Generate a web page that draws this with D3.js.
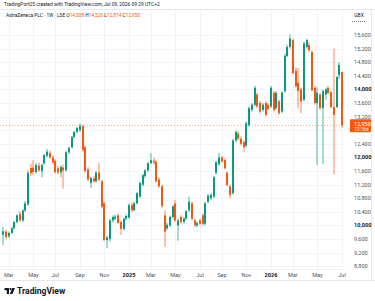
<!DOCTYPE html>
<html>
<head>
<meta charset="utf-8">
<script src="https://d3js.org/d3.v7.min.js"></script>
<style>
  body { margin: 0; background: #ffffff; }
  svg { display: block; font-family: Roboto, "Liberation Sans", sans-serif; }
</style>
</head>
<body>
<script>
// weekly candles, first bar = week of Mon 19 Feb 2024
var firstWeek = "2024-02-19";

var open = [9730,9820,9680,9780,9920,10100,10340,10150,10440,10620,
  11690,11700,11570,11760,11600,11830,12050,12130,12000,11900,
  11680,11560,11700,11620,12150,12300,12600,12750,12800,12920,
  12300,11650,11250,11380,11300,11560,11300,10650,9570,9600,
  10150,10200,10300,10100,9900,10200,10230,10600,10450,10650,
  10850,11200,11450,11620,11830,11900,11870,11350,11150,10300,
  9920,10000,10250,10650,10000,10250,10100,10200,10440,10650,
  10150,10000,10150,10300,10050,10700,10800,10850,11550,11800,
  12000,11920,11550,11150,10950,12500,12700,12550,12450,12350,
  12950,13400,13550,13850,13600,13400,13600,13550,13500,13900,
  13450,13650,13350,13950,14980,15250,15450,14550,14200,14000,
  13700,15250,15300,15100,14050,13600,13850,13450,13850,14050,
  13920,13480,13480,14420,14508];
var high = [9960,9870,9820,9960,10130,10330,10420,10480,10720,11620,
  11820,11920,11830,11850,11820,12100,12250,12200,12060,11950,
  11750,11780,11780,12200,12320,12640,12780,12900,13000,12960,
  12350,11720,11420,11460,11600,11850,11350,10700,9700,10200,
  10300,10320,10350,10150,10230,10330,10650,10680,10700,10990,
  11300,11520,11660,11870,12130,12000,11920,11420,11200,10450,
  10080,10300,10600,10750,10200,10300,10250,10460,10850,10700,
  10200,10120,10200,10350,10700,10920,10950,11450,11900,12130,
  12050,11980,11600,11200,12550,12800,12780,12620,12500,13050,
  13500,13600,14100,13900,13650,13600,13650,13600,14100,13950,
  13950,13700,13950,15050,15320,15620,15500,14650,14630,14050,
  15400,15500,15380,15150,14100,14060,13900,14000,14050,14100,
  13960,15200,14400,14800,14526];
var low = [9424,9600,9640,9740,9880,10060,10100,10100,10400,10580,
  11450,11480,11520,11580,11420,11780,12000,11960,11800,11520,
  11500,11420,11080,11580,12100,12260,12560,12700,12760,12150,
  11550,11300,11100,11250,11260,11300,10500,9550,9330,9520,
  10080,10150,10050,9720,9850,10150,10200,10400,10420,10620,
  10820,11150,11400,11580,11800,11800,11250,11100,10500,9380,
  9850,9950,10200,10100,9550,10050,10050,10150,10400,10150,
  9950,9950,10000,10000,10000,10650,10750,10800,11500,11750,
  11850,11650,11150,10800,10900,12450,12500,12350,12150,12300,
  12900,13350,13500,13450,13300,13350,13200,13400,13450,13350,
  13400,13250,13300,13900,14950,15200,14450,14050,13450,13300,
  13650,15200,15100,13950,13550,11780,13400,11800,13700,13850,
  13450,11500,13450,14300,12874];
var close = [9830,9660,9780,9920,10100,10300,10150,10440,10650,11550,
  11540,11570,11780,11620,11780,12070,12170,12000,11860,11570,
  11560,11720,11620,12150,12280,12600,12750,12870,12930,12220,
  11600,11350,11400,11300,11560,11350,10550,9570,9650,10150,
  10250,10260,10080,9900,10200,10280,10600,10450,10650,10950,
  11250,11480,11620,11830,11920,11850,11300,11150,10570,9820,
  10020,10250,10560,10150,10150,10100,10200,10420,10700,10200,
  10010,10070,10050,10050,10650,10880,10900,11420,11860,12000,
  11880,11680,11190,10900,12500,12750,12550,12400,12300,13000,
  13450,13550,14050,13500,13350,13550,13250,13430,14050,13400,
  13900,13300,13900,14990,15250,15500,14480,14100,13950,13650,
  15350,15450,15150,13980,13600,13900,13450,13950,14000,13900,
  13480,13250,14360,14720,12950];

var priceTicks = [8800,9200,9600,10000,10400,10800,11200,11600,12000,12400,
  12800,13200,13600,14000,14400,14800,15200,15600];
var boldPrices = [10000,12000,14000];
var monthTicks = ["2024-03","2024-05","2024-07","2024-09","2024-11","2025-01",
  "2025-03","2025-05","2025-07","2025-09","2025-11","2026-01","2026-03","2026-05","2026-07"];
var monthLabels = ["Mar","May","Jul","Sep","Nov","2025","Mar","May","Jul","Sep","Nov","2026","Mar","May","Jul"];

var lastPrice = 12950;
var upColor = "#089981", downColor = "#f7560f";

var W = 375, H = 301;
var svg = d3.select("body").append("svg").attr("width", W).attr("height", H);

var start = d3.utcParse("%Y-%m-%d")(firstWeek);
var dates = close.map(function(d, i) { return d3.utcMonday.offset(start, i); });

var x = d3.scaleUtc()
  .domain([dates[0], dates[dates.length - 1]])
  .range([3.4, 342]);
var y = d3.scaleLinear().domain([8800, 15600]).range([266.3, 35]);

var plotRight = 345, plotTop = 10, plotBottom = 269;

// grid
svg.append("g").selectAll("line").data(priceTicks).join("line")
  .attr("x1", 0).attr("x2", plotRight)
  .attr("y1", function(d) { return Math.round(y(d)) + 0.5; })
  .attr("y2", function(d) { return Math.round(y(d)) + 0.5; })
  .attr("stroke", "#f0f3fa");

var tickDates = monthTicks.map(function(m) {
  return d3.utcMonday.ceil(d3.utcParse("%Y-%m")(m));
});
svg.append("g").selectAll("line").data(tickDates).join("line")
  .attr("x1", function(d) { return Math.round(x(d)) + 0.5; })
  .attr("x2", function(d) { return Math.round(x(d)) + 0.5; })
  .attr("y1", plotTop).attr("y2", plotBottom)
  .attr("stroke", "#f0f3fa");

// frame
svg.append("line").attr("x1", 0).attr("x2", W).attr("y1", 9.5).attr("y2", 9.5).attr("stroke", "#e6e8ee");
svg.append("line").attr("x1", 0).attr("x2", W).attr("y1", 280.5).attr("y2", 280.5).attr("stroke", "#e6e8ee");
svg.append("line").attr("x1", 371.5).attr("x2", 371.5).attr("y1", 9.5).attr("y2", 280.5).attr("stroke", "#e6e8ee");
svg.append("line").attr("x1", 0).attr("x2", plotRight).attr("y1", plotBottom + 0.5).attr("y2", plotBottom + 0.5).attr("stroke", "#f0f3fa");

// last price dashed line
svg.append("line")
  .attr("x1", 0).attr("x2", plotRight)
  .attr("y1", Math.round(y(lastPrice)) + 0.5).attr("y2", Math.round(y(lastPrice)) + 0.5)
  .attr("stroke", downColor).attr("stroke-opacity", 0.5)
  .attr("stroke-dasharray", "1,2");

// candles
var candles = svg.append("g").selectAll("g").data(close).join("g")
  .attr("fill", function(d, i) { return close[i] >= open[i] ? upColor : downColor; });

candles.append("rect")
  .attr("class", "wick")
  .attr("x", function(d, i) { return Math.round(x(dates[i])) - 0.5; })
  .attr("width", 1)
  .attr("y", function(d, i) { return y(high[i]); })
  .attr("height", function(d, i) { return Math.max(0.5, y(low[i]) - y(high[i])); })
  .attr("opacity", 0.7);

candles.append("rect")
  .attr("class", "body")
  .attr("x", function(d, i) { return Math.round(x(dates[i])) - 1; })
  .attr("width", 2)
  .attr("y", function(d, i) { return y(Math.max(open[i], close[i])); })
  .attr("height", function(d, i) { return Math.max(1, Math.abs(y(open[i]) - y(close[i]))); });

// price axis labels (those under the last-price tag are hidden, as in the reference)
var ly = y(lastPrice);
svg.append("g").selectAll("text")
  .data(priceTicks.filter(function(d) { return Math.abs(y(d) - ly) > 8; }))
  .join("text")
  .attr("x", 354).attr("y", function(d) { return y(d) + 2; })
  .attr("font-size", 5.6)
  .attr("fill", "#131722")
  .attr("font-weight", function(d) { return boldPrices.indexOf(d) >= 0 ? "bold" : "normal"; })
  .attr("fill-opacity", function(d) { return boldPrices.indexOf(d) >= 0 ? 1 : 0.8; })
  .text(function(d) { return d3.format(",")(d); });

// last price label
svg.append("rect").attr("x", 350).attr("y", ly - 6).attr("width", 21).attr("height", 13)
  .attr("rx", 1).attr("fill", downColor);
svg.append("text").attr("x", 354).attr("y", ly + 0.5).attr("font-size", 5.6).attr("fill", "#fff")
  .text(d3.format(",")(lastPrice));
svg.append("text").attr("x", 354.5).attr("y", ly + 5.5).attr("font-size", 4.6).attr("fill", "#fff")
  .text("12:16d");

// time axis labels
svg.append("g").selectAll("text").data(tickDates).join("text")
  .attr("x", function(d) { return x(d); })
  .attr("y", 276.5)
  .attr("text-anchor", "middle")
  .attr("font-size", 5.6)
  .attr("fill", "#131722")
  .attr("font-weight", function(d, i) { return /^\d+$/.test(monthLabels[i]) ? "bold" : "normal"; })
  .attr("fill-opacity", function(d, i) { return /^\d+$/.test(monthLabels[i]) ? 1 : 0.8; })
  .text(function(d, i) { return monthLabels[i]; });

// header texts
svg.append("text").attr("x", 4).attr("y", 6).attr("font-size", 4.9).attr("fill", "#131722")
  .text("TradingPort25 created with TradingView.com, Jul 09, 2026 09:29 UTC+2");

var hdr = svg.append("text").attr("x", 6).attr("y", 16.5).attr("font-size", 4.8).attr("fill", "#131722");
hdr.append("tspan").text("AstraZeneca PLC · 1W · LSE");
[["O", "14,508"], ["H", "14,526"], ["L", "12,874"], ["C", "12,950"]].forEach(function(p) {
  hdr.append("tspan").text(" " + p[0]);
  hdr.append("tspan").attr("fill", downColor).text(p[1]);
});

svg.append("text").attr("x", 359).attr("y", 16.5).attr("text-anchor", "middle")
  .attr("font-size", 5).attr("fill", "#131722").text("GBX");
svg.append("line").attr("x1", 352).attr("x2", 366).attr("y1", 21.5).attr("y2", 21.5)
  .attr("stroke", "#131722").attr("stroke-dasharray", "1,1").attr("stroke-opacity", 0.6);

// TradingView logo
var logo = svg.append("g").attr("fill", "#131722");
logo.append("path").attr("d", "M4.5,288 h4.5 v6 h-2.2 v-3.8 h-2.3 z");
logo.append("circle").attr("cx", 10.6).attr("cy", 289.1).attr("r", 1.1);
logo.append("path").attr("d", "M12.4,288 h2.6 l-2.6,6 h-2.6 z");
svg.append("text").attr("x", 17).attr("y", 294.3).attr("font-size", 8.6).attr("font-weight", "bold")
  .attr("fill", "#131722").text("TradingView");
</script>
</body>
</html>
